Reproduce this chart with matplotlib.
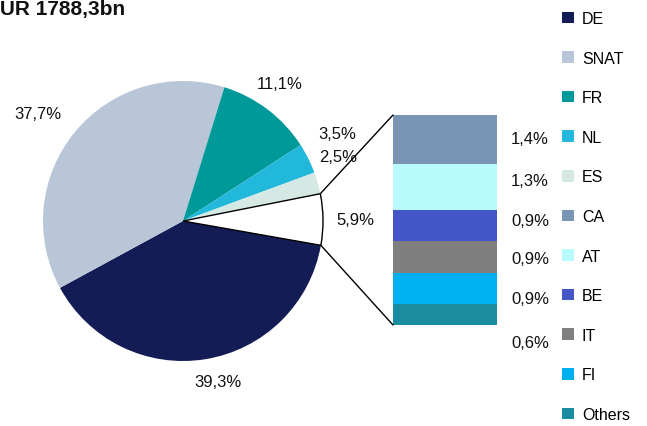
import numpy as np
import matplotlib.pyplot as plt
from matplotlib.patches import Patch, ConnectionPatch

plt.rcParams['font.family'] = ['Liberation Sans', 'DejaVu Sans']

# main split of the portfolio
pie_labels = ["DE", "SNAT", "FR", "NL", "ES", "Rest"]
pie_values = [39.3, 37.7, 11.1, 3.5, 2.5, 5.9]
pie_colors = ["#131c55", "#b8c6d8", "#009999", "#22b8db", "#d4e8e4", "#ffffff"]

# breakdown of the remaining slice, top to bottom
bar_labels = ["CA", "AT", "BE", "IT", "FI", "Others"]
bar_values = [1.4, 1.3, 0.9, 0.9, 0.9, 0.6]
bar_colors = ["#7a95b3", "#b9fbfd", "#4455c8", "#7f7f7f", "#00b0f0", "#1a8ca0"]

W, H = 647, 427
fig = plt.figure(figsize=(W / 100, H / 100), dpi=100)

def px_axes(x0, y0, x1, y1):
    return fig.add_axes([x0 / W, 1 - y1 / H, (x1 - x0) / W, (y1 - y0) / H])

# pie
ax = px_axes(43, 82, 323, 362)
wedges, _ = ax.pie(pie_values, colors=pie_colors, startangle=-10,
                   counterclock=False, radius=1,
                   wedgeprops=dict(linewidth=0))
rest = wedges[-1]
rest.set_edgecolor("black")
rest.set_linewidth(1.0)
ax.set_xlim(-1, 1)
ax.set_ylim(-1, 1)
ax.set_aspect("equal")
ax.axis("off")

# label radius / angle nudges per slice
lab_r = [1.17, 1.29, 1.2, 1.27, 1.2, 1.23]
lab_da = [3, 3, 2, 3, 7, 0]
for w, v, r, da in zip(wedges, pie_values, lab_r, lab_da):
    mid = np.deg2rad((w.theta1 + w.theta2) / 2 + da)
    ax.text(r * np.cos(mid), r * np.sin(mid), f"{v:.1f}%".replace(".", ","),
            ha="center", va="center", fontsize=12, color="#111111")

# stacked bar for the rest
bx = px_axes(393, 116, 497, 326)
total = sum(bar_values)
top = total
for v, c in zip(bar_values, bar_colors):
    bx.bar(0, v, bottom=top - v, width=1, color=c, linewidth=0)
    top -= v
bx.set_xlim(-0.5, 0.5)
bx.set_ylim(0, total)
bx.axis("off")

label_y = [140, 181, 222, 260, 300, 344]
for v, y in zip(bar_values, label_y):
    fig.text(530 / W, 1 - y / H, f"{v:.1f}%".replace(".", ","),
             ha="center", va="center", fontsize=12, color="#111111")

# connector lines from the rest slice to the bar
t1, t2 = np.deg2rad(rest.theta1), np.deg2rad(rest.theta2)
for th, yb in [(t2, total), (t1, 0)]:
    con = ConnectionPatch(xyA=(np.cos(th), np.sin(th)), coordsA=ax.transData,
                          xyB=(-0.5, yb), coordsB=bx.transData,
                          color="black", linewidth=1.0)
    fig.add_artist(con)

# legend
names = ["DE", "SNAT", "FR", "NL", "ES"] + bar_labels
cols = pie_colors[:5] + bar_colors
handles = [Patch(facecolor=c, edgecolor="none", label=n) for n, c in zip(names, cols)]
fig.legend(handles=handles, loc="upper left", bbox_to_anchor=(562 / W, 1 - 12 / H),
           frameon=False, fontsize=11.5, handlelength=0.75, handleheight=0.75,
           handletextpad=0.5, labelspacing=1.54, borderaxespad=0, borderpad=0)

fig.text(-14 / W, 1 - 10 / H, "EUR 1788,3bn", ha="left", va="center",
         fontsize=15, fontweight="bold", color="#111111")

fig.savefig("out.png", dpi=100)
